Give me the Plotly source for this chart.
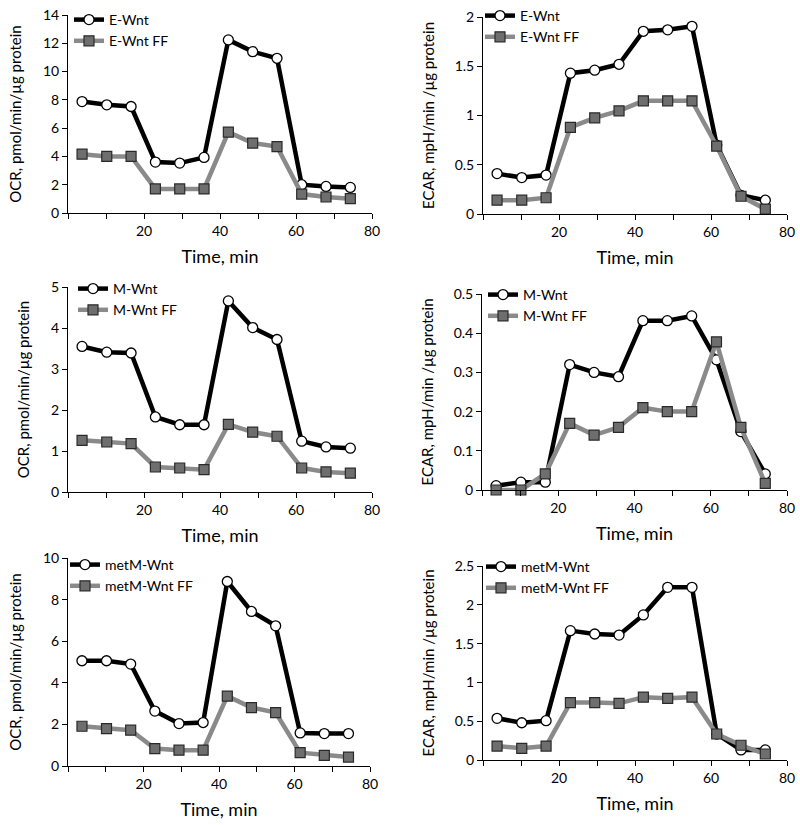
import plotly.graph_objects as go

time_min = [3.7, 10.2, 16.6, 23.0, 29.4, 35.8, 42.2, 48.6, 55.0, 61.5, 67.9, 74.3]

# Panel A: OCR, E-Wnt
ocr_e_wnt = [7.88, 7.65, 7.53, 3.60, 3.53, 3.93, 12.24, 11.41, 10.94, 2.00, 1.88, 1.81]
ocr_e_wnt_ff = [4.16, 4.00, 4.00, 1.70, 1.70, 1.70, 5.72, 4.94, 4.70, 1.34, 1.13, 1.01]
# Panel B: ECAR, E-Wnt
ecar_e_wnt = [0.41, 0.37, 0.395, 1.43, 1.46, 1.52, 1.855, 1.87, 1.905, 0.70, 0.19, 0.14]
ecar_e_wnt_ff = [0.14, 0.14, 0.165, 0.88, 0.976, 1.047, 1.149, 1.149, 1.149, 0.69, 0.18, 0.05]
# Panel C: OCR, M-Wnt
ocr_m_wnt = [3.55, 3.41, 3.39, 1.83, 1.64, 1.64, 4.66, 4.01, 3.72, 1.24, 1.10, 1.07]
ocr_m_wnt_ff = [1.26, 1.22, 1.18, 0.61, 0.585, 0.545, 1.65, 1.46, 1.36, 0.585, 0.49, 0.46]
# Panel D: ECAR, M-Wnt
ecar_m_wnt = [0.011, 0.02, 0.02, 0.32, 0.30, 0.289, 0.432, 0.432, 0.444, 0.332, 0.149, 0.041]
ecar_m_wnt_ff = [0.0, 0.0, 0.041, 0.17, 0.14, 0.16, 0.21, 0.20, 0.20, 0.378, 0.16, 0.017]
# Panel E: OCR, metM-Wnt
ocr_metm_wnt = [5.06, 5.06, 4.90, 2.64, 2.04, 2.09, 8.87, 7.43, 6.74, 1.59, 1.56, 1.56]
ocr_metm_wnt_ff = [1.91, 1.80, 1.72, 0.84, 0.76, 0.76, 3.36, 2.81, 2.57, 0.64, 0.51, 0.43]
# Panel F: ECAR, metM-Wnt
ecar_metm_wnt = [0.537, 0.48, 0.507, 1.667, 1.624, 1.61, 1.87, 2.225, 2.225, 0.335, 0.13, 0.13]
ecar_metm_wnt_ff = [0.18, 0.15, 0.18, 0.74, 0.74, 0.73, 0.81, 0.795, 0.81, 0.335, 0.19, 0.077]

x_ticks = [0, 10, 20, 30, 40, 50, 60, 70, 80]
x_tick_text = ["", "", "20", "", "40", "", "60", "", "80"]

OCR_TITLE = "OCR, pmol/min/µg protein"
ECAR_TITLE = "ECAR, mpH/min /µg protein"

W, H = 800, 825
FONT = "Lato"

panels = [
    # (series1, series2, names, ytitle, ymax, dtick, px x-left, px x-right, px top, px bottom, legend px x, legend px y, ytitle standoff)
    (ocr_e_wnt, ocr_e_wnt_ff, ("E-Wnt", "E-Wnt FF"), OCR_TITLE, 14, 2, 68, 372, 15, 213, 69, 4, 17),
    (ecar_e_wnt, ecar_e_wnt_ff, ("E-Wnt", "E-Wnt FF"), ECAR_TITLE, 2, 0.5, 483, 787, 17, 214, 480, 0, 16),
    (ocr_m_wnt, ocr_m_wnt_ff, ("M-Wnt", "M-Wnt FF"), OCR_TITLE, 5, 1, 68, 372, 287, 492, 73, 273, 17),
    (ecar_m_wnt, ecar_m_wnt_ff, ("M-Wnt", "M-Wnt FF"), ECAR_TITLE, 0.5, 0.1, 482, 787, 294, 490, 483, 279, 16),
    (ocr_metm_wnt, ocr_metm_wnt_ff, ("metM-Wnt", "metM-Wnt FF"), OCR_TITLE, 10, 2, 68, 370, 558, 766, 65, 549, 17),
    (ecar_metm_wnt, ecar_metm_wnt_ff, ("metM-Wnt", "metM-Wnt FF"), ECAR_TITLE, 2.5, 0.5, 483, 787, 566, 760, 481, 551, 16),
]

fig = go.Figure()
layout = dict(
    width=W, height=H,
    margin=dict(l=0, r=0, t=0, b=0, autoexpand=False),
    paper_bgcolor="white", plot_bgcolor="white",
    font=dict(family=FONT, size=14, color="black"),
    showlegend=True,
)

for i, (s1, s2, names, ytitle, ymax, dtick, xl, xr, yt, yb, lx, ly, yso) in enumerate(panels):
    n = i + 1
    xa = "x" if n == 1 else f"x{n}"
    ya = "y" if n == 1 else f"y{n}"
    lg = "legend" if n == 1 else f"legend{n}"
    fig.add_trace(go.Scatter(
        x=time_min, y=s1, name=names[0], mode="lines+markers",
        xaxis=xa, yaxis=ya, legend=lg, cliponaxis=False,
        line=dict(color="black", width=4.5),
        marker=dict(symbol="circle", size=10, color="white", line=dict(color="black", width=1.3)),
    ))
    fig.add_trace(go.Scatter(
        x=time_min, y=s2, name=names[1], mode="lines+markers",
        xaxis=xa, yaxis=ya, legend=lg, cliponaxis=False,
        line=dict(color="#8a8a8a", width=4.5),
        marker=dict(symbol="square", size=10, color="#6e6e6e", line=dict(color="#2a2a2a", width=1.2)),
    ))
    xkey = "xaxis" if n == 1 else f"xaxis{n}"
    ykey = "yaxis" if n == 1 else f"yaxis{n}"
    layout[xkey] = dict(
        domain=[xl / W, xr / W], anchor=ya, range=[0, 80], automargin=False,
        tickmode="array", tickvals=x_ticks, ticktext=x_tick_text,
        ticks="outside", ticklen=5, tickwidth=1, tickcolor="black",
        showline=True, linecolor="black", linewidth=1, showgrid=False, zeroline=False,
        tickfont=dict(size=14),
        title=dict(text="Time, min", font=dict(size=18), standoff=12),
    )
    layout[ykey] = dict(
        domain=[1 - yb / H, 1 - yt / H], anchor=xa, range=[0, ymax], automargin=False,
        dtick=dtick, tick0=0,
        ticks="outside", ticklen=5, tickwidth=1, tickcolor="black",
        showline=True, linecolor="black", linewidth=1, showgrid=False, zeroline=False,
        tickfont=dict(size=14),
        title=dict(text=ytitle, font=dict(size=15), standoff=yso),
    )
    layout[lg] = dict(
        x=lx / W, y=1 - ly / H, xanchor="left", yanchor="top",
        bgcolor="rgba(0,0,0,0)", borderwidth=0,
        font=dict(size=14), itemwidth=30, tracegroupgap=0,
    )

fig.update_layout(**layout)
fig.write_html(
    "out.html",
    config={"displayModeBar": False},
    post_script="document.body.style.margin='0';document.body.style.overflow='hidden';",
)
